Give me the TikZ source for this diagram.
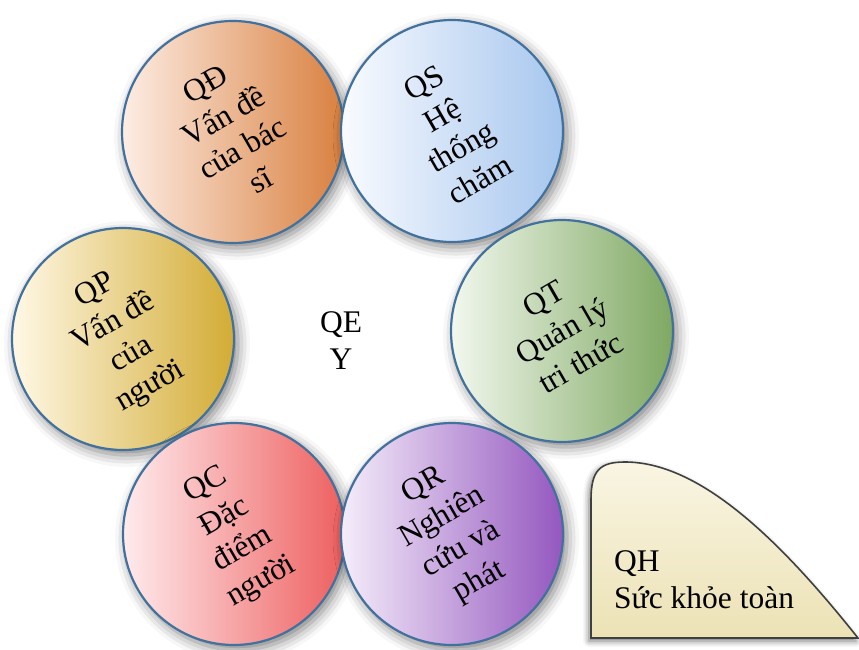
\documentclass[tikz,border=0pt]{standalone}
\usepackage{fontspec}
\setmainfont{Liberation Serif}
\usepackage{tikz}
\usetikzlibrary{shadows.blur}
\usepackage{xcolor}
\definecolor{qedge}{HTML}{41719C}
\definecolor{qdL}{HTML}{FDEDE4}\definecolor{qdM}{HTML}{F6CDB4}\definecolor{qdR}{HTML}{D9803F}
\definecolor{qsL}{HTML}{F9FBFF}\definecolor{qsM}{HTML}{E3EEFB}\definecolor{qsR}{HTML}{A6C6EE}
\definecolor{qpL}{HTML}{FFF8E6}\definecolor{qpM}{HTML}{FBE5A6}\definecolor{qpR}{HTML}{D3AC35}
\definecolor{qtL}{HTML}{F2F8EE}\definecolor{qtM}{HTML}{D5E9C8}\definecolor{qtR}{HTML}{7FA862}
\definecolor{qcL}{HTML}{FFEBED}\definecolor{qcM}{HTML}{FDBFC1}\definecolor{qcR}{HTML}{EE5F5F}
\definecolor{qrL}{HTML}{F5EDFA}\definecolor{qrM}{HTML}{DFC6EE}\definecolor{qrR}{HTML}{9457BF}
\definecolor{qhTop}{HTML}{F9F5E3}\definecolor{qhBot}{HTML}{ECE2B5}
\newcommand{\qfont}{\fontsize{31.5}{37}\selectfont}
\tikzset{
    qball/.style n args={3}{circle, draw=qedge, line width=2.2pt, minimum size=222pt, inner sep=0pt,
        left color=#1, middle color=#2, right color=#3,
        blur shadow={shadow xshift=4pt, shadow yshift=-5pt, shadow blur radius=12pt, shadow opacity=50}},
    qlabel/.style={align=center, font=\qfont, rotate=30, inner sep=0pt},
    qcenter/.style={align=center, font=\qfont, inner sep=0pt},
    qhshape/.style={draw=black!75, line width=1.6pt, top color=qhTop, bottom color=qhBot,
        blur shadow={shadow xshift=-2pt, shadow yshift=-3pt, shadow blur radius=6pt, shadow opacity=55}},
    qhlabel/.style={align=left, font=\qfont, inner sep=0pt, anchor=north west}
}
\begin{document}
\begin{tikzpicture}[x=1pt, y=-1pt]
    \useasboundingbox (0,0) rectangle (859,650);

    \node[qball={qdL}{qdM}{qdR}] (qd) at (233,132) {};
    \node[qball={qsL}{qsM}{qsR}] (qs) at (452,131) {};
    \node[qball={qpL}{qpM}{qpR}] (qp) at (123,339) {};
    \node[qball={qtL}{qtM}{qtR}] (qt) at (562,331) {};
    \node[qball={qcL}{qcM}{qcR}] (qc) at (234,534) {};
    \node[qball={qrL}{qrM}{qrR}] (qr) at (452,534) {};

    \node[qlabel] (qd-t) at (qd) {QĐ\\Vấn đề\\của bác\\sĩ};
    \node[qlabel] (qs-t) at (qs) {QS\\Hệ\\thống\\chăm};
    \node[qlabel] (qp-t) at (qp) {QP\\Vấn đề\\của\\người};
    \node[qlabel] (qt-t) at (qt) {QT\\Quản lý\\tri thức};
    \node[qlabel] (qc-t) at (qc) {QC\\Đặc\\điểm\\người};
    \node[qlabel] (qr-t) at (qr) {QR\\Nghiên\\cứu và\\phát};

    \node[qcenter] (qe) at (341,341) {QE\\Y};

    % QH corner shape
    \draw[qhshape] (591,638) -- (591,500) .. controls (591,470) and (600,462) .. (625,462)
        .. controls (700,462) and (780,540) .. (858,638) -- cycle;
    \node[qhlabel] (qh) at (614,550) {QH\\Sức khỏe toàn};
\end{tikzpicture}
\end{document}
